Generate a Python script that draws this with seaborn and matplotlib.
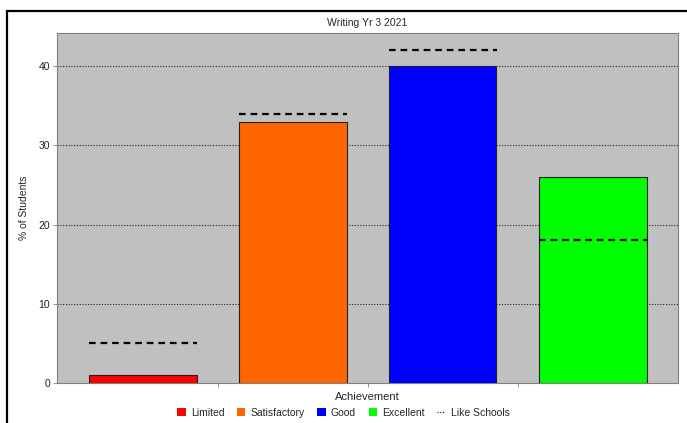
import matplotlib
matplotlib.use("Agg")
import matplotlib.pyplot as plt
from matplotlib.lines import Line2D
from matplotlib.patches import Patch, Rectangle
import seaborn as sns
import pandas as pd

# Achievement bands and percentages
categories = ["Limited", "Satisfactory", "Good", "Excellent"]
school_pct = [1, 33, 40, 26]
like_schools_pct = [5, 34, 42, 18]
bar_colors = ["#FF0000", "#FF6600", "#0000FF", "#00FF00"]
y_ticks = [0, 10, 20, 30, 40]

sns.set_theme(style="white")
plt.rcParams["font.family"] = ["Liberation Sans", "DejaVu Sans"]

df = pd.DataFrame({"Achievement": categories, "Pct": school_pct})

fig = plt.figure(figsize=(6.87, 4.23), dpi=100)
ax = fig.add_axes([57 / 687, 40 / 423, 621 / 687, 350 / 423])
ax.set_facecolor("#C0C0C0")

sns.barplot(data=df, x="Achievement", y="Pct", hue="Achievement",
            palette=bar_colors, saturation=1, width=0.72, edgecolor="#202020",
            linewidth=0.8, legend=False, ax=ax, zorder=3)

# Like-schools comparison marks across each bar
xs = range(len(categories))
ax.hlines(like_schools_pct, [x - 0.36 for x in xs], [x + 0.36 for x in xs],
          colors="black", linestyles=(0, (3, 2.2)), linewidth=1.6, zorder=4)

ax.set_xlim(-0.57, 3.57)
ax.set_ylim(0, 44.2)
ax.set_yticks(y_ticks)
ax.set_yticklabels([str(t) for t in y_ticks], fontsize=7.5, color="#222222")
for t in y_ticks[1:]:
    ax.axhline(t, color="#202020", linestyle=(0, (1, 1.5)), linewidth=0.8, zorder=1)

ax.set_xticks([0.5, 1.5, 2.5])
ax.set_xticklabels([])
ax.tick_params(axis="x", length=3, width=0.6, color="#808080", direction="out", bottom=True)
ax.tick_params(axis="y", length=3, width=0.6, color="#808080", direction="out", left=True, pad=2)

for s in ax.spines.values():
    s.set_color("#808080")
    s.set_linewidth(0.8)

ax.set_xlabel("Achievement", fontsize=8, labelpad=0)
ax.set_ylabel("% of Students", fontsize=7.5, labelpad=7)
ax.set_title("Writing Yr 3 2021", fontsize=7.5, pad=5)

handles = [Patch(facecolor=c, edgecolor="none") for c in bar_colors]
handles.append(Line2D([0], [0], color="black", linestyle=(0, (1, 1.5)), linewidth=0.8))
fig.legend(handles, categories + ["Like Schools"], loc="center",
           bbox_to_anchor=(0.5, 10 / 423), ncol=5, frameon=False, fontsize=7.5,
           handlelength=0.8, handleheight=0.8, handletextpad=0.5, columnspacing=1.2)

# Chart outer frame (left and top edges visible)
fig.patches.append(Rectangle((7 / 687, -0.05), 1.2, 1 - 11 / 423 + 0.05,
                             transform=fig.transFigure, fill=False,
                             edgecolor="black", linewidth=1.6))

fig.savefig("out.png", dpi=100)
